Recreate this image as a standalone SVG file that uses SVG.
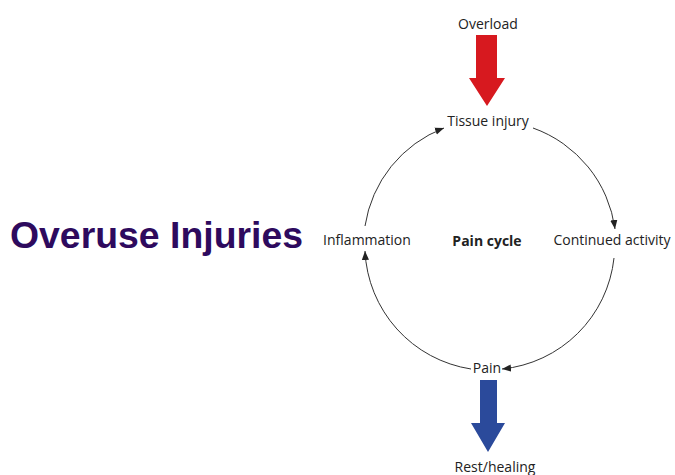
<svg xmlns="http://www.w3.org/2000/svg" width="675" height="475" viewBox="0 0 675 475">
<style>
.lbl{font-family:"Open Sans","Liberation Sans",sans-serif;font-size:14px;fill:#222;text-anchor:middle}
.arc{fill:none;stroke:#333;stroke-width:1;marker-end:url(#ah)}
</style>
<defs>
<marker id="ah" viewBox="0 0 10 10" refX="10" refY="5" markerWidth="9" markerHeight="9" markerUnits="userSpaceOnUse" orient="auto">
<path d="M0,1 L10,5 L0,9 Z" fill="#222"/>
</marker>
</defs>
<rect width="675" height="475" fill="#fff"/>
<g id="title"><text x="10" y="248" font-family="Liberation Sans, Arial, sans-serif" font-weight="bold" font-size="36" fill="#2E0A5E" textLength="293" lengthAdjust="spacingAndGlyphs">Overuse Injuries</text></g>
<g id="connectors">
<path class="arc" d="M533,128 A125,125 0 0 1 615,229"/>
<path class="arc" d="M614,258 A125,125 0 0 1 502,369"/>
<path class="arc" d="M471,369 A125,125 0 0 1 365,251"/>
<path class="arc" d="M365,226 A125,125 0 0 1 444,128"/>
</g>
<g id="overload"><text class="lbl" x="488" y="29">Overload</text>
<polygon points="476,35 497,35 497,78 505,78 487,106 469,78 476,78" fill="#D7191F"/></g>
<g id="tissue-injury"><text class="lbl" x="488" y="126">Tissue injury</text></g>
<g id="continued-activity"><text class="lbl" x="612" y="245">Continued activity</text></g>
<g id="pain"><text class="lbl" x="487" y="373">Pain</text></g>
<g id="inflammation"><text class="lbl" x="367" y="245">Inflammation</text></g>
<g id="pain-cycle"><text class="lbl" x="487" y="246" font-weight="bold">Pain cycle</text></g>
<g id="rest-healing"><polygon points="480,380 497,380 497,423 505,423 488,452 471,423 480,423" fill="#2B4A9B"/>
<text class="lbl" x="495" y="472">Rest/healing</text></g>
</svg>
